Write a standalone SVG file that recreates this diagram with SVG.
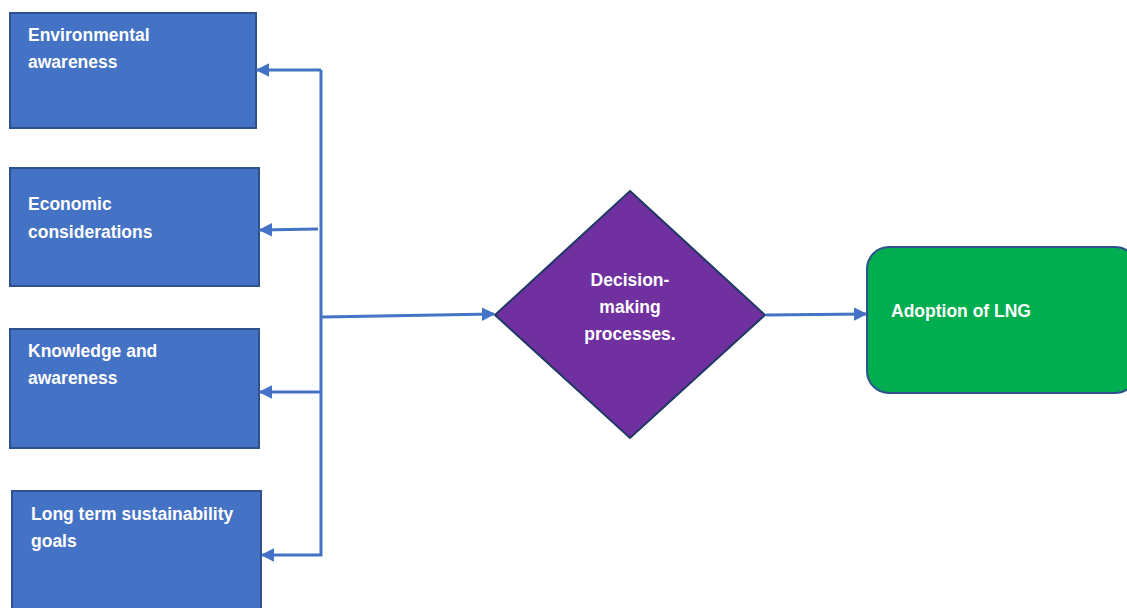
<svg xmlns="http://www.w3.org/2000/svg" width="1127" height="608" viewBox="0 0 1127 608">
<defs>
<style>
.box{fill:#4472C4;stroke:#2F528F;stroke-width:2}
.t{font-family:"Liberation Sans",Arial,sans-serif;font-weight:bold;font-size:17.5px;fill:#fff}
.c{fill:none;stroke:#4472C4;stroke-width:3}
</style>
<marker id="ah" viewBox="0 0 10 10" refX="9" refY="5" markerWidth="4.5" markerHeight="4.5" orient="auto" markerUnits="strokeWidth">
<path d="M0,0 L10,5 L0,10 z" fill="#4472C4"/>
</marker>
</defs>
<rect width="1127" height="608" fill="#fff"/>
<g id="n1"><rect class="box" x="10" y="13" width="246" height="115"/><text class="t" x="28" y="41">Environmental</text><text class="t" x="28" y="68">awareness</text></g>
<g id="n2"><rect class="box" x="10" y="168" width="249" height="118"/><text class="t" x="28" y="210">Economic</text><text class="t" x="28" y="238">considerations</text></g>
<g id="n3"><rect class="box" x="10" y="329" width="249" height="119"/><text class="t" x="28" y="357">Knowledge and</text><text class="t" x="28" y="384">awareness</text></g>
<g id="n4"><rect class="box" x="12" y="491" width="249" height="130"/><text class="t" x="31" y="520">Long term sustainability</text><text class="t" x="31" y="547">goals</text></g>
<g id="n5"><polygon points="630,191 765,315 630,438 495,315" fill="#7030A0" stroke="#203864" stroke-width="2"/>
<text class="t" text-anchor="middle" x="630" y="286">Decision-</text><text class="t" text-anchor="middle" x="630" y="313">making</text><text class="t" text-anchor="middle" x="630" y="340">processes.</text></g>
<g id="n6"><rect x="867" y="247" width="270" height="146" rx="22" fill="#00AD4F" stroke="#2F528F" stroke-width="2"/><text class="t" x="891" y="317">Adoption of LNG</text></g>
<g id="connectors">
<path class="c" d="M321,556 L321,70"/>
<path class="c" d="M321,70 L257,70" marker-end="url(#ah)"/>
<path class="c" d="M318,229 L260,230" marker-end="url(#ah)"/>
<path class="c" d="M321,392 L260,392" marker-end="url(#ah)"/>
<path class="c" d="M322,555 L262,555" marker-end="url(#ah)"/>
<path class="c" d="M322,317 L494,314" marker-end="url(#ah)"/>
<path class="c" d="M766,315 L866,314" marker-end="url(#ah)"/>
</g>
</svg>
